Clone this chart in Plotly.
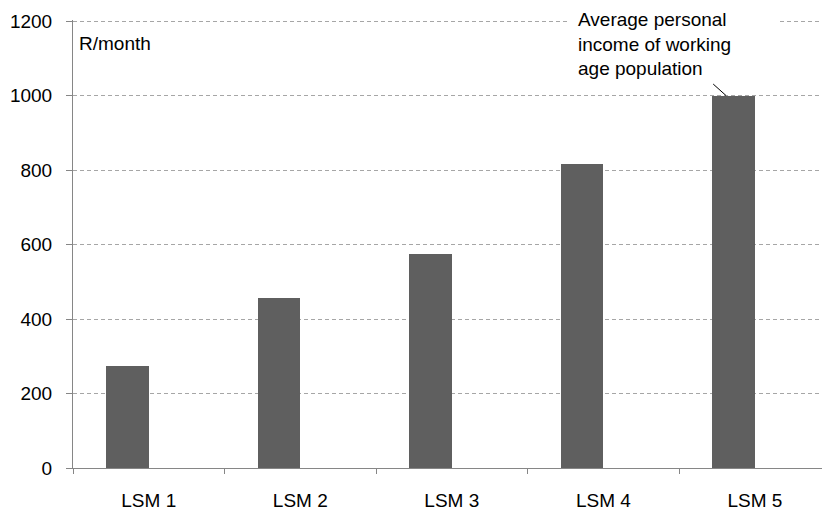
import plotly.graph_objects as go

# Average personal income by LSM group (R per month)
categories = ["LSM 1", "LSM 2", "LSM 3", "LSM 4", "LSM 5"]
income = [274, 457, 576, 817, 1000]
y_ticks = [0, 200, 400, 600, 800, 1000, 1200]

FONT = "Liberation Sans, Arial, Helvetica, sans-serif"
BAR = "#5f5f5f"
AXIS = "#868686"
GRID = "#a6a6a6"

fig = go.Figure()
fig.add_trace(go.Bar(
    x=categories,
    y=income,
    width=0.28,
    offset=-0.28,
    marker=dict(color=BAR, line=dict(width=0)),
    showlegend=False,
))

# white strip breaking the top gridline behind the note
fig.add_shape(
    type="rect", xref="paper", yref="paper",
    x0=0.6596, x1=0.941, y0=0.99, y1=1.01,
    fillcolor="#ffffff", line=dict(width=0),
    layer="above",
)

# leader line from the note down to the LSM 5 bar
fig.add_shape(
    type="line", xref="x", yref="y",
    x0=3.725, y0=income[4] + 31, x1=3.81, y1=income[4],
    line=dict(color="#000000", width=1),
    layer="above",
)

fig.add_annotation(
    text="Average personal<br>income of working<br>age population",
    xref="paper", yref="paper",
    x=0.671, y=1.03, xanchor="left", yanchor="top",
    align="left",
    showarrow=False,
    font=dict(family=FONT, size=19, color="#000000"),
)

fig.add_annotation(
    text="R/month",
    xref="paper", yref="paper",
    x=0.005, y=0.948, xanchor="left", yanchor="middle",
    showarrow=False,
    font=dict(family=FONT, size=19, color="#000000"),
)

fig.update_layout(
    width=822, height=510,
    margin=dict(l=73, r=0, t=20, b=42, autoexpand=False),
    paper_bgcolor="#ffffff",
    plot_bgcolor="#ffffff",
    font=dict(family=FONT, size=19, color="#000000"),
    bargap=0,
)
fig.update_xaxes(
    type="category",
    range=[-0.5, 4.443],
    automargin=False,
    showline=True, linecolor=AXIS, linewidth=1,
    showgrid=False,
    ticks="outside", tickson="boundaries", ticklen=5, tickcolor=AXIS,
    ticklabelstandoff=15,
    tickfont=dict(family=FONT, size=19, color="#000000"),
)
fig.update_yaxes(
    range=[0, 1203],
    tickvals=y_ticks,
    automargin=False,
    showline=True, linecolor=AXIS, linewidth=1,
    zeroline=False,
    showgrid=True, gridcolor=GRID, griddash="4px,3px", gridwidth=1,
    ticks="outside", ticklen=6, tickcolor=AXIS,
    ticklabelstandoff=10,
    tickfont=dict(family=FONT, size=19, color="#000000"),
)

fig.write_html("out.html")
